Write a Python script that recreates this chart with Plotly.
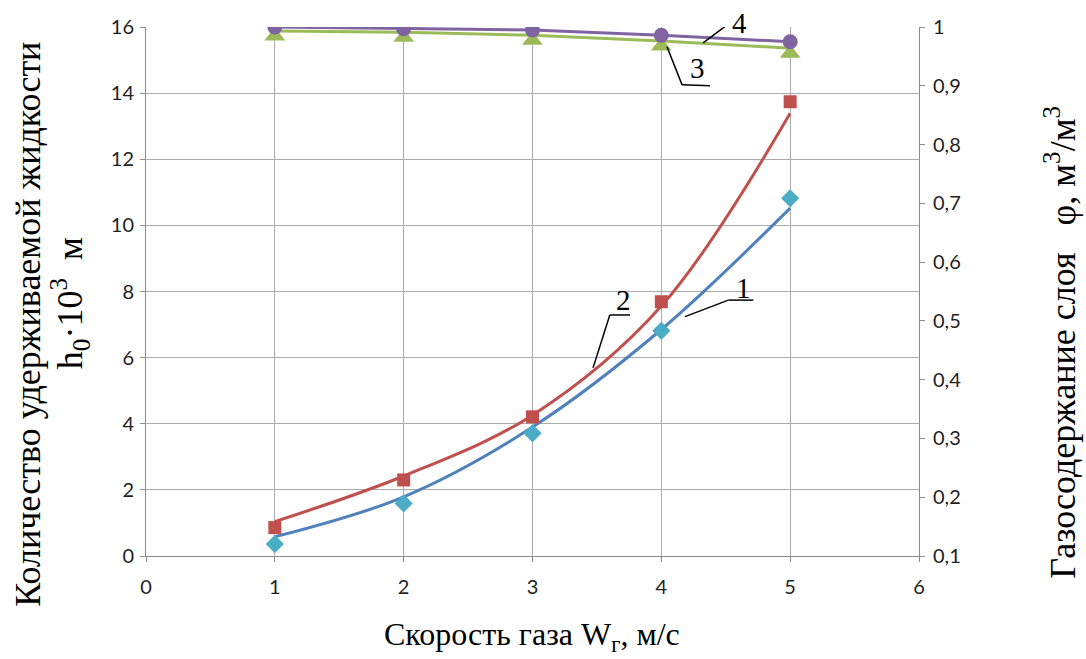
import plotly.graph_objects as go

# ---- data ----
gas_speed = [1, 2, 3, 4, 5]
# left axis (h0 * 10^3, m)
liquid_1_pts = [0.36, 1.59, 3.71, 6.81, 10.82]
liquid_2_pts = [0.86, 2.30, 4.21, 7.69, 13.74]
liquid_1_curve = [0.58, 1.79, 3.90, 6.85, 10.52]
liquid_2_curve = [1.04, 2.42, 4.26, 7.56, 13.39]
# right axis (gas content, m3/m3)
gas_3 = [0.993, 0.991, 0.986, 0.976, 0.964]
gas_4 = [1.000, 0.997, 0.995, 0.986, 0.975]

x_ticks = [0, 1, 2, 3, 4, 5, 6]
left_ticks = [0, 2, 4, 6, 8, 10, 12, 14, 16]
right_ticks = [0.1, 0.2, 0.3, 0.4, 0.5, 0.6, 0.7, 0.8, 0.9, 1.0]

BLUE_LINE = "#4F81BD"
BLUE_MK = "#4BACC6"
RED = "#C0504D"
GREEN = "#9BBB59"
PURPLE = "#8064A2"
GRID = "#ABABAB"
TICKFONT = dict(family="Lato", size=20, color="#1f1f1f")
SERIF = "Liberation Serif"

fig = go.Figure()
fig.add_trace(go.Scatter(x=gas_speed, y=liquid_1_curve, mode="lines",
                         line=dict(color=BLUE_LINE, width=3, shape="spline", smoothing=1.0),
                         showlegend=False, hoverinfo="skip"))
fig.add_trace(go.Scatter(x=gas_speed, y=liquid_1_pts, mode="markers",
                         marker=dict(symbol="diamond", size=14, color=BLUE_MK),
                         showlegend=False))
fig.add_trace(go.Scatter(x=gas_speed, y=liquid_2_curve, mode="lines",
                         line=dict(color=RED, width=3, shape="spline", smoothing=1.0),
                         showlegend=False, hoverinfo="skip"))
fig.add_trace(go.Scatter(x=gas_speed, y=liquid_2_pts, mode="markers",
                         marker=dict(symbol="square", size=13, color=RED),
                         showlegend=False))
fig.add_trace(go.Scatter(x=gas_speed, y=gas_3, mode="lines", yaxis="y2",
                         line=dict(color=GREEN, width=3),
                         showlegend=False))
fig.add_trace(go.Scatter(x=gas_speed, y=gas_3, mode="markers", yaxis="y2",
                         marker=dict(symbol="triangle-up", size=18, color=GREEN, standoff=5),
                         showlegend=False))
fig.add_trace(go.Scatter(x=gas_speed, y=gas_4, mode="lines+markers", yaxis="y2",
                         line=dict(color=PURPLE, width=3),
                         marker=dict(symbol="circle", size=15, color=PURPLE),
                         showlegend=False))

# curve number labels with leader lines (data coordinates of the left axis)
labels = [
    dict(text="1", x=4.636, y=8.10, shift=0, line=[(4.184, 7.24), (4.52, 7.74), (4.714, 7.74)]),
    dict(text="2", x=3.703, y=7.74, shift=0, line=[(3.47, 5.69), (3.60, 7.29), (3.757, 7.29)]),
    dict(text="3", x=4.277, y=14.76, shift=0, line=[(4.044, 15.40), (4.161, 14.25), (4.378, 14.22)]),
    dict(text="4", x=4.61, y=15.95, shift=6, line=[(4.324, 15.52), (4.51, 16.06)]),
]
annotations = []
shapes = []
for lb in labels:
    annotations.append(dict(x=lb["x"], y=lb["y"], xref="x", yref="y", text=lb["text"],
                            yshift=lb["shift"], showarrow=False,
                            xanchor="center", yanchor="middle",
                            font=dict(family=SERIF, size=29, color="black")))
    pts = lb["line"]
    for (x0, y0), (x1, y1) in zip(pts[:-1], pts[1:]):
        shapes.append(dict(type="line", xref="x", yref="y", x0=x0, y0=y0, x1=x1, y1=y1,
                           line=dict(color="black", width=1.5)))

# axis titles
title_common = dict(xref="paper", yref="paper", showarrow=False,
                    xanchor="center", yanchor="middle")
annotations += [
    dict(x=0.499, y=-0.153, text="Скорость газа W<sub>г</sub>, м/с",
         font=dict(family=SERIF, size=32, color="black"), **title_common),
    dict(x=-0.153, y=0.4386, textangle=-90, text="Количество удерживаемой жидкости",
         font=dict(family=SERIF, size=36, color="black"), **title_common),
    dict(x=-0.0983, y=0.478, textangle=-90, text="h<sub>0</sub>·10<sup>3</sup>  м",
         font=dict(family=SERIF, size=36, color="black"), **title_common),
    dict(x=1.182, y=0.4045, textangle=-90,
         text="Газосодержание слоя   φ, м<sup>3</sup>/м<sup>3</sup>",
         font=dict(family=SERIF, size=36, color="black"), **title_common),
]

fig.update_layout(
    width=1086, height=659,
    margin=dict(l=146, r=167, t=27, b=103),
    plot_bgcolor="white", paper_bgcolor="white",
    separators=", ",
    xaxis=dict(range=[0, 6], tickvals=x_ticks, showgrid=True, gridcolor=GRID, gridwidth=1,
               zeroline=False, showline=True, linecolor="#8c8c8c", linewidth=1,
               ticks="outside", ticklen=5, tickcolor="#8c8c8c",
               ticklabelstandoff=8, tickfont=TICKFONT),
    yaxis=dict(range=[0, 16], tickvals=left_ticks, showgrid=True, gridcolor=GRID, gridwidth=1,
               zeroline=False, showline=True, linecolor="#8c8c8c", linewidth=1,
               ticks="outside", ticklen=5, tickcolor="#8c8c8c",
               ticklabelstandoff=2, tickfont=TICKFONT),
    yaxis2=dict(range=[0.1, 1.0], tickvals=right_ticks, overlaying="y", side="right",
                showgrid=False, zeroline=False, showline=True, linecolor="#8c8c8c", linewidth=1,
                ticks="outside", ticklen=5, tickcolor="#8c8c8c",
                ticklabelstandoff=4, tickfont=TICKFONT),
    annotations=annotations,
    shapes=shapes,
    showlegend=False,
)

fig.write_html("out.html")
